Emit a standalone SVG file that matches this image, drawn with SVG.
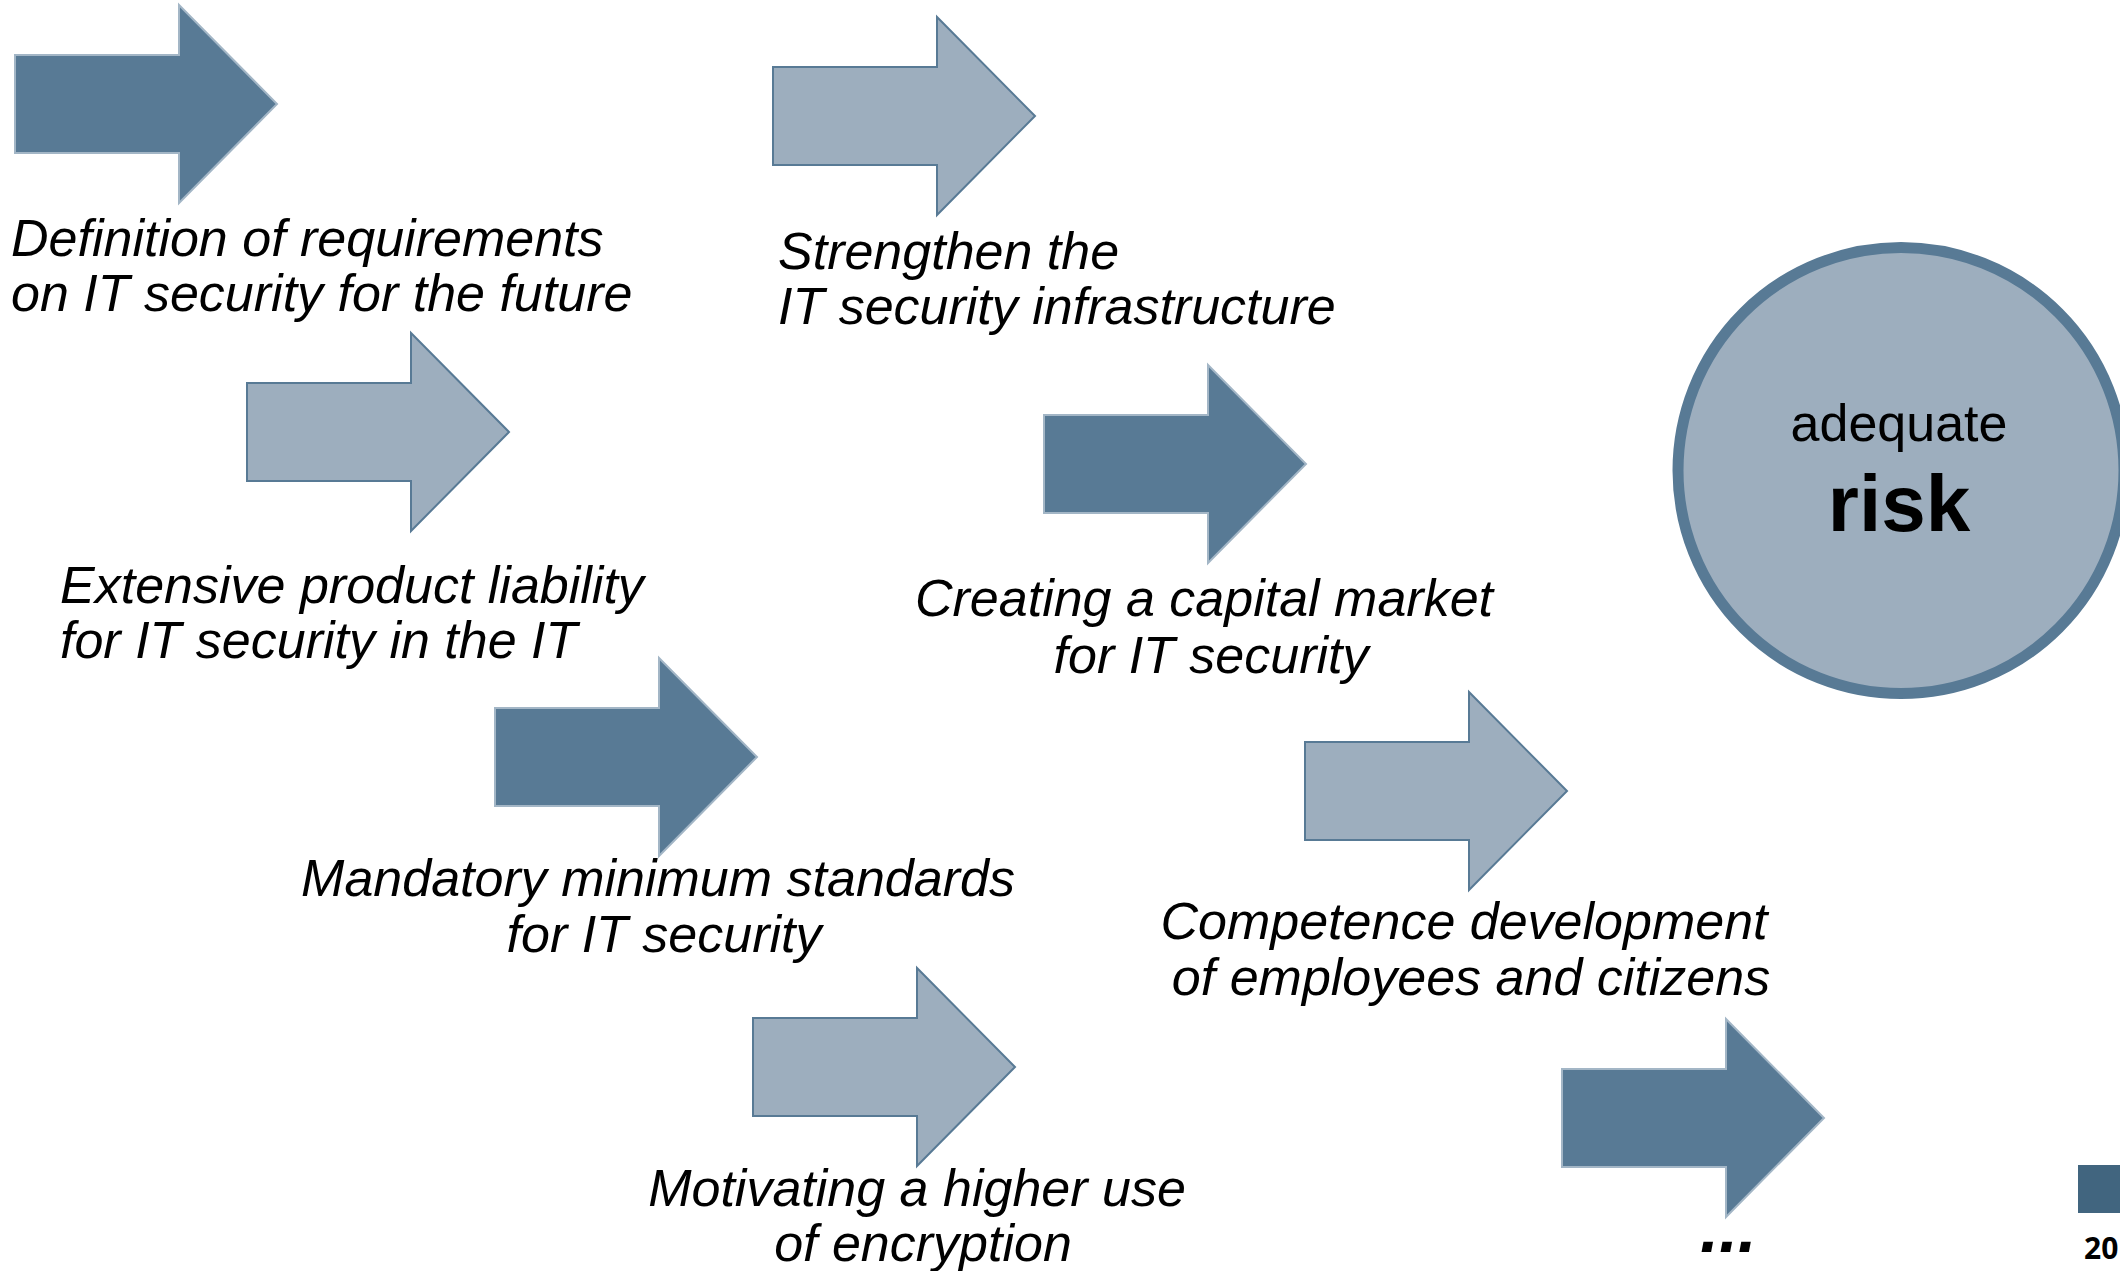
<svg xmlns="http://www.w3.org/2000/svg" xmlns:xlink="http://www.w3.org/1999/xlink" width="2120" height="1271" viewBox="0 0 2120 1271">
  <defs>
    <!-- block arrow: 262 wide, 198 tall, shaft 98 tall -->
    <path id="blockArrow" d="M0,50 H164 V0 L262,99 L164,198 V148 H0 Z"/>
  </defs>
  <style>
    .dark { fill: #587a95; stroke: #a3b6c6; stroke-width: 2; }
    .light { fill: #9daebe; stroke: #587a95; stroke-width: 2; }
    .lbl { font-family: "Liberation Sans", Arial, sans-serif; font-style: italic; font-size: 52px; fill: #000; }
    .mid { text-anchor: middle; }
  </style>
  <rect width="2120" height="1271" fill="#ffffff"/>

  <!-- measures, each an arrow with its caption -->
  <g id="requirements">
    <use xlink:href="#blockArrow" class="dark" transform="translate(15,5)"/>
    <text class="lbl" x="11" y="256">Definition of requirements</text>
    <text class="lbl" x="11" y="311">on IT security for the future</text>
  </g>

  <g id="infrastructure">
    <use xlink:href="#blockArrow" class="light" transform="translate(773,17)"/>
    <text class="lbl" x="778" y="269">Strengthen the</text>
    <text class="lbl" x="778" y="324">IT security infrastructure</text>
  </g>

  <g id="liability">
    <use xlink:href="#blockArrow" class="light" transform="translate(247,333)"/>
    <text class="lbl" x="60" y="603">Extensive product liability</text>
    <text class="lbl" x="60" y="658">for IT security in the IT</text>
  </g>

  <g id="capital-market">
    <use xlink:href="#blockArrow" class="dark" transform="translate(1044,365)"/>
    <text class="lbl mid" x="1204" y="616">Creating a capital market</text>
    <text class="lbl mid" x="1211" y="673">for IT security</text>
  </g>

  <g id="minimum-standards">
    <use xlink:href="#blockArrow" class="dark" transform="translate(495,658)"/>
    <text class="lbl mid" x="658" y="896">Mandatory minimum standards</text>
    <text class="lbl mid" x="664" y="952">for IT security</text>
  </g>

  <g id="competence">
    <use xlink:href="#blockArrow" class="light" transform="translate(1305,692)"/>
    <text class="lbl mid" x="1464" y="939">Competence development</text>
    <text class="lbl mid" x="1471" y="995">of employees and citizens</text>
  </g>

  <g id="encryption">
    <use xlink:href="#blockArrow" class="light" transform="translate(753,968)"/>
    <text class="lbl mid" x="917" y="1206">Motivating a higher use</text>
    <text class="lbl mid" x="923" y="1261">of encryption</text>
  </g>

  <g id="more">
    <use xlink:href="#blockArrow" class="dark" transform="translate(1562,1019)"/>
    <text x="1700" y="1252" font-family="'Liberation Sans', Arial, sans-serif" font-weight="bold" font-style="italic" font-size="68" fill="#000">...</text>
  </g>

  <!-- goal -->
  <g id="adequate-risk">
    <circle cx="1901" cy="470.5" r="223" fill="#9daebe" stroke="#587a95" stroke-width="11"/>
    <text x="1899" y="441" text-anchor="middle" font-family="'Liberation Sans', Arial, sans-serif" font-size="52" fill="#000">adequate</text>
    <text x="1899" y="531" text-anchor="middle" font-family="'Liberation Sans', Arial, sans-serif" font-weight="bold" font-size="80" fill="#000">risk</text>
  </g>

  <g id="connectors"/>

  <!-- page marker -->
  <g id="page-number">
    <rect x="2078" y="1165" width="42" height="48" fill="#41657f"/>
    <text x="2084" y="1259" font-family="'Open Sans', 'DejaVu Sans', sans-serif" font-weight="bold" font-size="30" fill="#000">20</text>
  </g>
</svg>
